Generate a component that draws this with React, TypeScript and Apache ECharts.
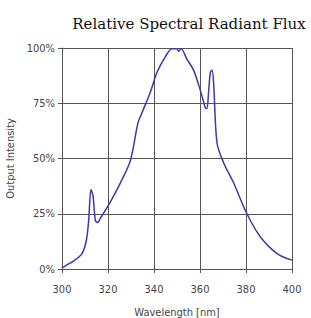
import React, { useEffect, useRef } from "react";
import * as echarts from "echarts";

const wavelengths = [300, 302, 305, 308.7, 310.6, 311.6, 312.6, 313.5, 314.5, 315.5, 316.7, 320.3, 325.4, 329.7, 333, 334.5, 338.4, 341.3, 344.9, 347.8, 350, 350.7, 351.8, 354.3, 357.2, 360.1, 362.3, 363, 363.8, 364.5, 365.2, 365.9, 367.4, 370.3, 374.6, 380.4, 386.2, 393.5, 400];
const intensity = [0.5, 1.8, 3.6, 7, 13, 22, 36, 33, 22, 21, 23, 29, 39, 49, 66, 70, 80, 89, 96, 99.7, 99.7, 98.5, 99.7, 95, 90, 81, 73, 72.6, 81, 89, 90, 84.5, 57, 48, 39, 25, 14.6, 7, 4];
const yTicks = [0, 25, 50, 75, 100];

const labelFont = "'DejaVu Sans Condensed', 'DejaVu Sans', sans-serif";

export default function App() {
  const ref = useRef<HTMLDivElement>(null);
  useEffect(() => {
    const chart = echarts.init(ref.current!, null, { renderer: "svg" });
    chart.setOption({
      animation: false,
      backgroundColor: "#ffffff",
      title: {
        text: "Relative Spectral Radiant Flux",
        left: 184,
        textAlign: "center",
        top: 11,
        textStyle: { fontFamily: "DejaVu Serif", fontSize: 15, fontWeight: "normal", color: "#111" },
      },
      grid: { left: 62, right: 19, top: 48, bottom: 49, outerBoundsMode: "none" },
      xAxis: {
        type: "value",
        min: 300,
        max: 400,
        interval: 20,
        name: "Wavelength [nm]",
        nameLocation: "middle",
        nameGap: 38,
        nameTextStyle: { fontFamily: labelFont, fontSize: 11, color: "#444" },
        axisLine: { lineStyle: { color: "#555", width: 1 } },
        axisTick: { show: true, length: 4, lineStyle: { color: "#555" } },
        axisLabel: { fontFamily: labelFont, fontSize: 11, color: "#444", margin: 15 },
        splitLine: { show: true, lineStyle: { color: "#555", width: 1 } },
      },
      yAxis: {
        type: "value",
        min: 0,
        max: 100,
        interval: 25,
        name: "Output Intensity",
        nameLocation: "middle",
        nameGap: 34,
        nameTextStyle: { fontFamily: labelFont, fontSize: 11, color: "#444" },
        axisLine: { show: true, lineStyle: { color: "#555", width: 1 } },
        axisTick: { show: true, length: 4, lineStyle: { color: "#555" } },
        axisLabel: {
          fontFamily: labelFont,
          fontSize: 11,
          color: "#444",
          margin: 7,
          formatter: (v: number) => (yTicks.includes(v) ? v + "%" : ""),
        },
        splitLine: { show: true, lineStyle: { color: "#555", width: 1 } },
      },
      series: [
        {
          type: "line",
          data: wavelengths.map((w, i) => [w, intensity[i]]),
          smooth: 0.3,
          showSymbol: false,
          lineStyle: { color: "#3a3aa8", width: 1.5 },
        },
      ],
    });
    return () => chart.dispose();
  }, []);
  return <div ref={ref} style={{ width: 311, height: 318, position: "absolute", left: 0, top: 0 }} />;
}
